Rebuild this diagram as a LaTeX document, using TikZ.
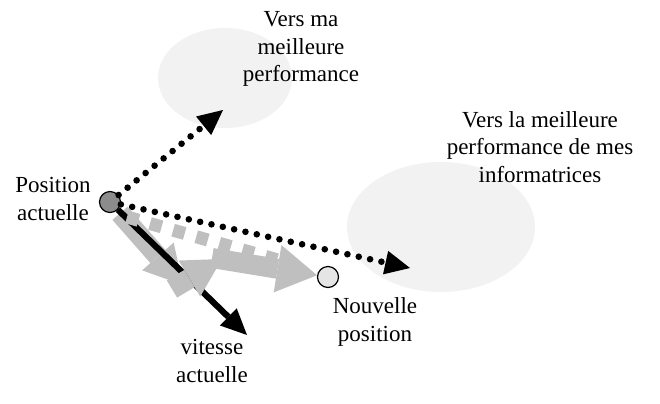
\documentclass[tikz,border=0pt]{standalone}
\usepackage{fontspec}
\setmainfont{Liberation Serif}
\usetikzlibrary{arrows.meta}
\definecolor{zonegray}{gray}{0.95}
\definecolor{pasgray}{gray}{0.75}
\definecolor{curgray}{gray}{0.55}
\definecolor{newgray}{gray}{0.9}
\tikzset{
        zone/.style={fill=zonegray}, % the two regions of best performance
        txt/.style={align=center, inner sep=0pt, font=\fontsize{11.5}{13.8}\selectfont},
        particle/.style={circle, draw, line width=0.6pt, minimum size=10.5pt, inner sep=0pt},
        dotarrow/.style={line width=3.3pt, line cap=round, dash pattern=on 0pt off 5.8pt,
                -{Triangle[length=12.5pt,width=12pt,line width=0pt]}},
        vitarrow/.style={line width=3.1pt, -{Triangle[length=13pt,width=12pt,line width=0pt]}},
        pasarrow/.style={draw=pasgray, line width=10pt,
                -{Triangle[length=19pt,width=21pt,line width=0pt]}},
        pasdash/.style={draw=pasgray, line width=6.5pt, dash pattern=on 6pt off 6pt},
}

\begin{document}
\begin{tikzpicture}[x=0.5pt,y=-0.5pt]
\useasboundingbox (0,0) rectangle (660,403);

% zones
\fill[zone] (225,78) ellipse [x radius=33.5pt, y radius=25pt];
\fill[zone] (441,227) ellipse [x radius=47pt, y radius=32.5pt];

% particles
\node[particle, fill=curgray] (cur) at (110,202) {};
\node[particle, fill=newgray] (new) at (328,277) {};

% free ends
\coordinate (g1tip) at (183,285);
\coordinate (g2start) at (172,289);
\coordinate (g2tip) at (222,259);
\coordinate (g3start) at (212,258);
\coordinate (dstart) at (127,217);
\coordinate (dend) at (292,264);
\coordinate (vittip) at (247,335);
\coordinate (owntip) at (223,110);
\coordinate (inftip) at (410,268);

% steps of the move
\draw[pasarrow, shorten <=2pt] (cur) -- (g1tip);
\draw[vitarrow] (cur) -- (vittip);
\draw[pasdash] (dstart) -- (dend);
\draw[pasarrow] (g2start) -- (g2tip);
\draw[pasarrow, -{Triangle[length=20pt,width=24pt,line width=0pt]}] (g3start) -- (new);

% attractions
\draw[dotarrow] (cur) -- (owntip);
\draw[dotarrow] (cur) -- (inftip);

% labels
\node[txt] (own) at (301,49) {Vers ma\\meilleure\\performance};
\node[txt] (inf) at (540,147) {Vers la meilleure\\performance de mes\\informatrices};
\node[txt] (curlbl) at (53,199) {Position\\actuelle};
\node[txt] (newlbl) at (375,322) {Nouvelle\\position};
\node[txt] (vitlbl) at (212,361) {vitesse\\actuelle};

\end{tikzpicture}
\end{document}
